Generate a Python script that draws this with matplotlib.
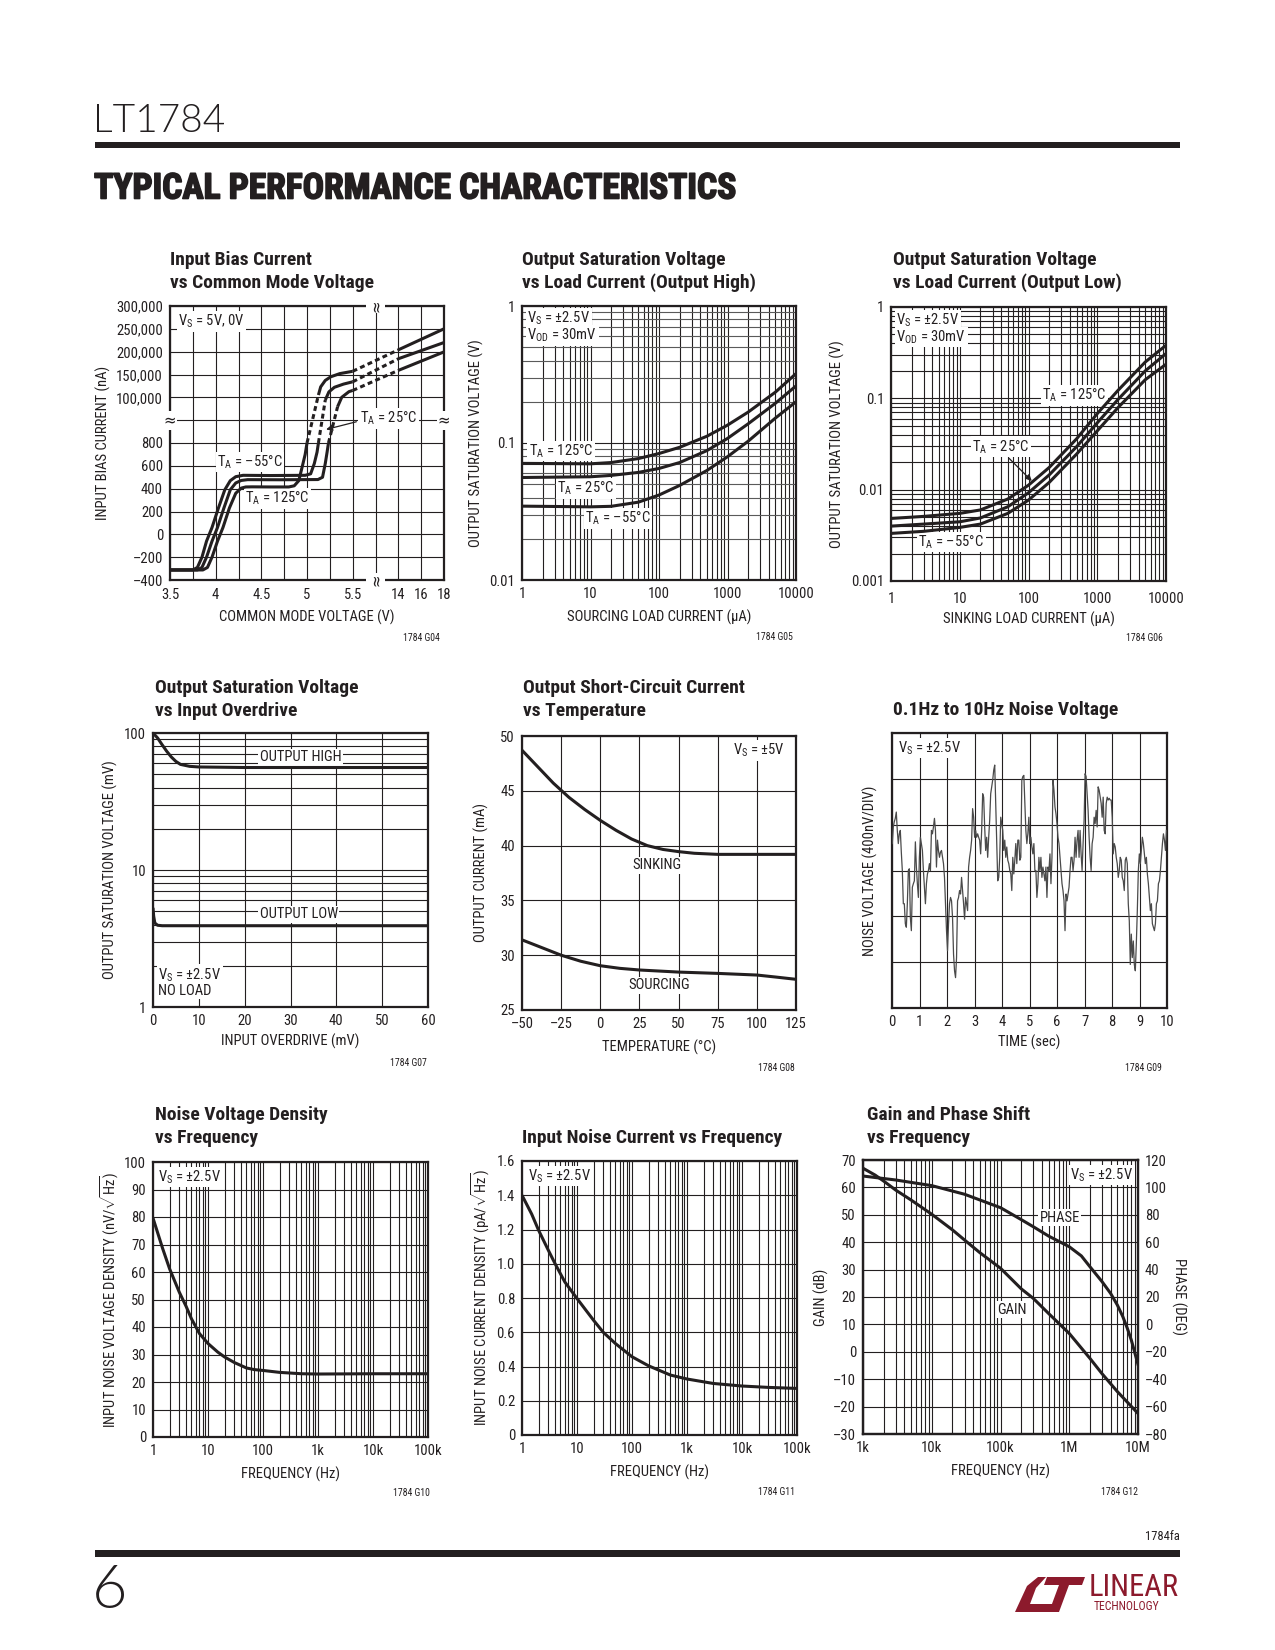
import os
import numpy as np
import matplotlib
matplotlib.use('Agg')
import matplotlib.pyplot as plt
from matplotlib import font_manager as fm
from matplotlib.patches import Polygon, Rectangle
from matplotlib.ticker import LogLocator, NullFormatter
from matplotlib.transforms import blended_transform_factory
import matplotlib.patheffects as pe

# ---------------- data ----------------
# G04 input bias current vs common mode voltage (V, nA)
g04_m55_v = [3.5, 3.75, 3.8, 3.85, 3.9, 3.96, 4.03, 4.1, 4.16, 4.22, 4.3, 4.6, 4.98, 5.04, 5.08, 5.11, 5.125]
g04_m55_i = [-312, -312, -290, -200, -60, 60, 230, 390, 470, 505, 517, 515, 517, 530, 620, 720, 800]
g04_25_v = [3.5, 3.8, 3.85, 3.9, 3.96, 4.02, 4.09, 4.16, 4.22, 4.28, 4.35, 4.7, 5.12, 5.17, 5.2, 5.22, 5.235]
g04_25_i = [-312, -312, -290, -200, -60, 60, 230, 390, 450, 472, 479, 478, 480, 500, 620, 720, 800]
g04_125_v = [3.5, 3.86, 3.91, 3.96, 4.02, 4.08, 4.15, 4.22, 4.28, 4.33, 4.4, 4.6, 4.8, 4.86, 4.91, 4.95, 4.98, 5.0]
g04_125_i = [-312, -312, -290, -200, -60, 60, 230, 360, 405, 415, 416, 415, 415, 425, 470, 600, 700, 800]
# dashed transition between the two ranges
g04_m55_jump = ([5.125, 5.2], [800, 94000])
g04_25_jump = ([5.235, 5.335], [800, 79500])
g04_125_jump = ([5.0, 5.125], [800, 105000])
# upper range, low section
g04_m55_up_v = [5.2, 5.24, 5.3, 5.4, 5.5]
g04_m55_up_i = [94000, 112000, 122000, 129000, 134000]
g04_25_up_v = [5.335, 5.38, 5.46, 5.5]
g04_25_up_i = [79500, 100000, 112500, 115000]
g04_125_up_v = [5.125, 5.15, 5.2, 5.26, 5.36, 5.5]
g04_125_up_i = [105000, 123000, 137000, 145000, 152000, 157000]
# upper range, 14V..18V (dashed from 5.5V to 14V)
g04_hi_v = [14, 18]
g04_m55_hi_i = [184500, 220000]
g04_25_hi_i = [159000, 199500]
g04_125_hi_i = [204000, 250000]

# G05 output high saturation (uA, V)
g05_i = [1, 10, 20, 50, 100, 200, 500, 1000, 2000, 5000, 10000]
g05_125 = [0.071, 0.0705, 0.072, 0.077, 0.0838, 0.093, 0.112, 0.135, 0.168, 0.235, 0.321]
g05_25 = [0.056, 0.0567, 0.058, 0.061, 0.0652, 0.072, 0.088, 0.108, 0.138, 0.195, 0.261]
g05_m55 = [0.0346, 0.0342, 0.0345, 0.037, 0.0417, 0.049, 0.063, 0.0794, 0.103, 0.152, 0.2]

# G06 output low saturation (uA, V)
g06_i = [1, 3, 10, 20, 50, 100, 200, 500, 1000, 2000, 5000, 10000]
g06_125 = [0.00484, 0.0051, 0.0055, 0.006, 0.0079, 0.0112, 0.0175, 0.036, 0.068, 0.122, 0.25, 0.381]
g06_25 = [0.00399, 0.0042, 0.00445, 0.0049, 0.0065, 0.00925, 0.0145, 0.0295, 0.0539, 0.097, 0.2, 0.309]
g06_m55 = [0.00332, 0.0035, 0.00386, 0.0042, 0.0055, 0.00769, 0.012, 0.0245, 0.044, 0.079, 0.16, 0.236]

# G07 saturation vs overdrive (mV, mV)
g07_od_hi = [0, 1, 2, 3, 4, 5, 6, 8, 10, 20, 60]
g07_hi = [100, 92, 82, 73.5, 66.8, 62, 59, 57.1, 56.5, 56, 56]
g07_od_lo = [0, 0.15, 0.4, 1, 2, 60]
g07_lo = [5.3, 4.6, 4.1, 3.95, 3.92, 3.92]

# G08 short circuit current vs temperature (C, mA)
g08_t_sink = [-50, -40, -30, -20, -10, 0, 10, 20, 30, 40, 50, 60, 75, 100, 125]
g08_sink = [48.7, 47.2, 45.7, 44.4, 43.3, 42.3, 41.4, 40.6, 40.0, 39.65, 39.45, 39.3, 39.2, 39.2, 39.2]
g08_t_src = [-50, -37.5, -25, -12.5, 0, 12.5, 25, 50, 75, 100, 112.5, 125]
g08_src = [31.4, 30.7, 30.0, 29.45, 29.04, 28.8, 28.65, 28.46, 28.34, 28.19, 28.0, 27.8]

# G09 0.1Hz to 10Hz noise (nV), evenly sampled over 10 s
g09_nv = [235, 380, 425, 455, 510, 350, 235, 320, 350, 160, 0, -290, -290, -465, -495, -290, 0, 15, -410, -525,
          -145, -115, -90, 250, 30, -115, -235, 115, 290, 235, 175, 0, -145, -290, -115, -30, 0, 60, 0, 350,
          320, 380, 455, 350, 30, 265, 175, 115, 160, 175, 115, 60, -60, -290, -525, -700, -465, -290, -235, -265,
          -410, -730, -875, -935, -760, -265, -235, -175, -205, -60, -175, -290, -425, -235, -290, -350, 30, 115, 175, 265,
          540, 465, 290, 350, 290, 320, 290, 265, 145, 350, 670, 640, 380, 175, 290, 115, 290, 440, 670, 730,
          790, 875, 920, 585, 235, -90, -60, 115, 465, 410, 350, 175, 265, 115, 205, 90, 60, 0, -30, -175,
          115, -30, 90, 235, 60, 265, 265, 90, 115, 790, 820, 830, 585, 350, 235, 320, 465, 235, 290, 205,
          145, 235, 0, 0, -235, -115, 115, 0, 115, -60, 30, -30, -90, 30, -235, 30, 0, 145, -115, 115,
          790, 700, 555, 495, 410, 290, 235, 115, 0, -115, -175, -265, -525, -205, -265, -205, -145, 0, 115, 115,
          0, 90, 290, 115, 265, 350, 115, 350, 145, 0, 235, 440, 845, 820, 670, 525, 290, 115, 0, 235,
          290, 465, 410, 525, 380, 730, 700, 640, 585, 465, 640, 350, 320, 585, 640, 615, 630, 615, 615, 465,
          145, 235, 205, 115, 60, -60, 0, 115, 90, -60, -90, -175, 90, 115, 60, -290, -440, -820, -555, -760,
          -615, -820, -875, -640, -350, 0, 145, 60, 175, 290, 235, 145, 60, 115, -30, -115, -235, -350, -290, -465,
          -495, -525, -465, -290, -265, -115, -90, 0, 115, 235, 320, 265, 175, 350]

# G10 noise voltage density (Hz, nV/rtHz)
g10_f = [1, 1.5, 2, 3, 4, 5, 7, 10, 15, 20, 30, 50, 70, 100, 200, 500, 1000, 10000, 100000]
g10_en = [79.6, 68.5, 61.2, 52.7, 47.5, 43, 37.6, 34, 30.9, 29.1, 27.1, 25.1, 24.5, 24.2, 23.5, 23, 22.9, 23, 23]

# G11 noise current density (Hz, pA/rtHz)
g11_f = [1, 1.5, 2, 3, 4, 6, 10, 20, 30, 50, 100, 200, 500, 1000, 3000, 10000, 30000, 100000]
g11_in = [1.4, 1.29, 1.196, 1.08, 1.0, 0.894, 0.797, 0.67, 0.6, 0.534, 0.457, 0.404, 0.35, 0.327, 0.301, 0.286,
          0.278, 0.272]

# G12 gain and phase (Hz, dB / deg)
g12_f = [1e3, 1.5e3, 2e3, 3e3, 5e3, 1e4, 2e4, 3e4, 5e4, 1e5, 2e5, 3e5, 5e5, 1e6, 2e6, 3e6, 5e6, 1e7]
g12_gain = [67, 64.5, 62.3, 59, 55.4, 50.2, 44.5, 40.8, 36.2, 30.5, 23, 19.5, 14, 6.7, -2.4, -8, -14.5, -22.5]
g12_pf = [1e3, 3e3, 1e4, 3e4, 1e5, 2e5, 3e5, 5e5, 1e6, 1.5e6, 2e6, 3e6, 4e6, 5e6, 6e6, 7e6, 8e6, 1e7]
g12_phase = [108.3, 105.4, 101.3, 95, 85.2, 76.5, 71.3, 64.5, 56.7, 50, 42.1, 31.2, 22.6, 14.2, 5.8, -2.9, -11.5,
             -29.2]


# ---------------- fonts ----------------
def find_font(patterns):
    for pat in patterns:
        for f in fm.fontManager.ttflist:
            if os.path.basename(f.fname).lower().startswith(pat.lower()):
                return f
    return None


cond = find_font(['RobotoCondensed-Regular', 'Roboto_Condensed-Regular', 'LiberationSansNarrow-Regular',
                  'DejaVuSansCondensed.ttf'])
light = find_font(['Lato-Light', 'OpenSans-Light', 'Roboto-Light', 'DejaVuSans-ExtraLight'])

W, H = 1275, 1650
INK = '#231f20'
RED = '#8c1a2c'
if cond is not None:
    plt.rcParams['font.family'] = [cond.name, 'DejaVu Sans']
    plt.rcParams['font.stretch'] = cond.stretch
else:
    plt.rcParams['font.family'] = ['Liberation Sans', 'DejaVu Sans']
plt.rcParams['mathtext.fontset'] = 'custom'
plt.rcParams['mathtext.rm'] = plt.rcParams['font.family'][0]
plt.rcParams['text.color'] = INK
plt.rcParams['axes.labelcolor'] = INK
LIGHT = dict(family=[light.name, 'DejaVu Sans'], weight=light.weight, stretch='normal') if light else {}

fig = plt.figure(figsize=(W / 100, H / 100), dpi=100)

LW = 2.2
SUB_S = r'V$_\mathregular{S}$'
SUB_A = r'T$_\mathregular{A}$'
SUB_OD = r'V$_\mathregular{OD}$'


def px(x, y):
    return x / W, 1 - y / H


def new_ax(l, t, r, b):
    ax = fig.add_axes([l / W, 1 - b / H, (r - l) / W, (b - t) / H])
    for s in ax.spines.values():
        s.set_linewidth(1.6)
        s.set_color(INK)
    ax.tick_params(which='both', length=0, labelsize=10.5, colors=INK, pad=5)
    ax.grid(which='both', color=INK, lw=0.8)
    ax.set_axisbelow(True)
    return ax


def log_minor(axis):
    axis.set_minor_locator(LogLocator(base=10, subs=np.arange(2, 10), numticks=30))
    axis.set_minor_formatter(NullFormatter())


def note(ax, x, y, s, ha='left', va='center', box=True):
    bb = dict(facecolor='white', edgecolor='none', pad=1.0) if box else None
    ax.text(x, y, s, transform=ax.transAxes, ha=ha, va=va, fontsize=10.5, bbox=bb, zorder=5)


def title(x, y, lines):
    for k, s in enumerate(lines):
        fig.text(*px(x, y + 23 * k), s, fontsize=14, fontweight='bold', va='center')


def code(x, y, s):
    fig.text(*px(x, y), s, fontsize=7, ha='right', va='center')


def curve(ax, x, y, dashed=False):
    ls = (0, (1.6, 1.1)) if dashed else '-'
    ax.plot(x, y, color=INK, lw=LW, ls=ls, zorder=6, solid_capstyle='butt')


# ---------------- header / footer ----------------
fig.text(*px(93, 121), 'LT1784', fontsize=28, va='center', **LIGHT)
fig.add_artist(Rectangle(px(95, 148), (1180 - 95) / W, 6 / H, transform=fig.transFigure, color=INK, lw=0))
fig.text(*px(94, 189), 'TYPICAL PERFORMANCE CHARACTERISTICS', fontsize=25.5, fontweight='bold', va='center',
         path_effects=[pe.withStroke(linewidth=1.2, foreground=INK)])
fig.text(*px(1180, 1537), '1784fa', fontsize=9, ha='right', va='center')
fig.add_artist(Rectangle(px(95, 1557), (1180 - 95) / W, 7 / H, transform=fig.transFigure, color=INK, lw=0))
fig.text(*px(92, 1591), '6', fontsize=44, va='center', **LIGHT)
logo_L = [(1015, 1612), (1050, 1612), (1053, 1604), (1030, 1604), (1036, 1588), (1046, 1577), (1038, 1577),
          (1027, 1586)]
logo_T = [(1047, 1577), (1085, 1577), (1082, 1585), (1069, 1585), (1059, 1612), (1049, 1612), (1059, 1585),
          (1044, 1585)]
for poly in (logo_L, logo_T):
    fig.add_artist(Polygon([px(*p) for p in poly], closed=True, transform=fig.transFigure, color=RED, lw=0))
fig.text(*px(1089, 1588), 'LINEAR', fontsize=22, color=RED, va='center')
fig.text(*px(1094, 1606), 'TECHNOLOGY', fontsize=8.5, color=RED, va='center')

# ---------------- G04 ----------------
cm_knots = [0.0, 3.5, 5.625, 13.0, 18.0, 30.0]
cm_idx = [-14.0, 0.0, 8.5, 9.5, 12.0, 18.0]
ib_knots = [-3000, -400, 900, 75000, 300000, 1e6]
ib_idx = [-13, 0, 6.5, 7.5, 12, 26]

ax = new_ax(170, 306, 444, 580)
ax.set_xscale('function', functions=(lambda v: np.interp(v, cm_knots, cm_idx),
                                     lambda u: np.interp(u, cm_idx, cm_knots)))
ax.set_yscale('function', functions=(lambda v: np.interp(v, ib_knots, ib_idx),
                                     lambda u: np.interp(u, ib_idx, ib_knots)))
ax.set_xlim(3.5, 18)
ax.set_ylim(-400, 300000)
x_break = float(np.interp(9, cm_idx, cm_knots))
y_break = float(np.interp(7, ib_idx, ib_knots))
ax.set_xticks([3.5, 4, 4.5, 5, 5.5, 14, 16, 18], labels=['3.5', '4', '4.5', '5', '5.5', '14', '16', '18'])
ax.set_xticks([3.75, 4.25, 4.75, 5.25, x_break], minor=True)
ax.set_yticks([-400, -200, 0, 200, 400, 600, 800, 100000, 150000, 200000, 250000, 300000],
              labels=['–400', '–200', '0', '200', '400', '600', '800', '100,000', '150,000', '200,000',
                      '250,000', '300,000'])
ax.set_yticks([y_break], minor=True)
ax.xaxis.set_minor_formatter(NullFormatter())
ax.yaxis.set_minor_formatter(NullFormatter())
ax.tick_params(axis='x', pad=6)
for v, i in ((g04_m55_v, g04_m55_i), (g04_25_v, g04_25_i), (g04_125_v, g04_125_i)):
    curve(ax, v, i)
for j in (g04_m55_jump, g04_25_jump, g04_125_jump):
    curve(ax, j[0], j[1], dashed=True)
for v, i, hi in ((g04_m55_up_v, g04_m55_up_i, g04_m55_hi_i), (g04_25_up_v, g04_25_up_i, g04_25_hi_i),
                 (g04_125_up_v, g04_125_up_i, g04_125_hi_i)):
    curve(ax, v, i)
    curve(ax, [v[-1], g04_hi_v[0]], [i[-1], hi[0]], dashed=True)
    curve(ax, g04_hi_v, hi)
bx = blended_transform_factory(ax.transData, ax.transAxes)
by = blended_transform_factory(ax.transAxes, ax.transData)
brk = dict(facecolor='white', edgecolor='none', pad=0.2)
for yy in (0, 1):
    ax.text(x_break, yy, '≈', transform=bx, rotation=90, ha='center', va='center', fontsize=12,
            bbox=brk, zorder=7, clip_on=False, family='DejaVu Sans')
for xx in (0, 1):
    ax.text(xx, y_break, '≈', transform=by, ha='center', va='center', fontsize=12,
            bbox=brk, zorder=7, clip_on=False, family='DejaVu Sans')
note(ax, 0.03, 0.944, SUB_S + ' = 5V, 0V')
note(ax, 0.292, 0.431, SUB_A + ' = –55°C', ha='center')
note(ax, 0.392, 0.298, SUB_A + ' = 125°C', ha='center')
note(ax, 0.797, 0.589, SUB_A + ' = 25°C', ha='center')
ax.annotate('', xy=(0.56, 0.547), xytext=(0.69, 0.58), xycoords='axes fraction',
            arrowprops=dict(arrowstyle='-|>', color=INK, lw=0.9, mutation_scale=9), zorder=7)
ax.set_xlabel('COMMON MODE VOLTAGE (V)', fontsize=10.5, labelpad=5)
ax.set_ylabel('INPUT BIAS CURRENT (nA)', fontsize=10.5, labelpad=4)
title(170, 260, ['Input Bias Current', 'vs Common Mode Voltage'])
code(440, 638, '1784 G04')

# ---------------- G05 ----------------
ax = new_ax(522, 306, 796, 580)
ax.set_xscale('log')
ax.set_yscale('log')
ax.set_xlim(1, 1e4)
ax.set_ylim(0.01, 1)
ax.set_xticks([1, 10, 100, 1000, 10000], labels=['1', '10', '100', '1000', '10000'])
ax.set_yticks([0.01, 0.1, 1], labels=['0.01', '0.1', '1'])
log_minor(ax.xaxis)
log_minor(ax.yaxis)
ax.yaxis.grid(which='minor', color='#5a5a5a', lw=0.8)
for yv in (g05_125, g05_25, g05_m55):
    curve(ax, g05_i, yv)
note(ax, 0.02, 0.954, SUB_S + ' = ±2.5V')
note(ax, 0.02, 0.893, SUB_OD + ' = 30mV')
note(ax, 0.024, 0.471, SUB_A + ' = 125°C')
note(ax, 0.128, 0.334, SUB_A + ' = 25°C')
note(ax, 0.231, 0.225, SUB_A + ' = –55°C')
ax.set_xlabel('SOURCING LOAD CURRENT (µA)', fontsize=10.5, labelpad=6)
ax.set_ylabel('OUTPUT SATURATION VOLTAGE (V)', fontsize=10.5, labelpad=4)
title(522, 260, ['Output Saturation Voltage', 'vs Load Current (Output High)'])
code(793, 637, '1784 G05')

# ---------------- G06 ----------------
ax = new_ax(891, 307, 1166, 581)
ax.set_xscale('log')
ax.set_yscale('log')
ax.set_xlim(1, 1e4)
ax.set_ylim(0.001, 1)
ax.set_xticks([1, 10, 100, 1000, 10000], labels=['1', '10', '100', '1000', '10000'])
ax.set_yticks([0.001, 0.01, 0.1, 1], labels=['0.001', '0.01', '0.1', '1'])
ax.tick_params(axis='x', pad=8)
log_minor(ax.xaxis)
log_minor(ax.yaxis)
for yv in (g06_125, g06_25, g06_m55):
    curve(ax, g06_i, yv)
note(ax, 0.02, 0.951, SUB_S + ' = ±2.5V')
note(ax, 0.02, 0.89, SUB_OD + ' = 30mV')
note(ax, 0.549, 0.678, SUB_A + ' = 125°C')
note(ax, 0.295, 0.49, SUB_A + ' = 25°C')
note(ax, 0.1, 0.143, SUB_A + ' = –55°C')
ax.annotate('', xy=(0.519, 0.358), xytext=(0.422, 0.455), xycoords='axes fraction',
            arrowprops=dict(arrowstyle='-|>', color=INK, lw=0.9, mutation_scale=9), zorder=7)
ax.set_xlabel('SINKING LOAD CURRENT (µA)', fontsize=10.5, labelpad=4)
ax.set_ylabel('OUTPUT SATURATION VOLTAGE (V)', fontsize=10.5, labelpad=4)
title(893, 260, ['Output Saturation Voltage', 'vs Load Current (Output Low)'])
code(1163, 638, '1784 G06')

# ---------------- G07 ----------------
ax = new_ax(153, 733, 428, 1007)
ax.set_yscale('log')
ax.set_xlim(0, 60)
ax.set_ylim(1, 100)
ax.set_xticks(np.arange(0, 61, 10))
ax.set_yticks([1, 10, 100], labels=['1', '10', '100'])
log_minor(ax.yaxis)
curve(ax, g07_od_hi, g07_hi)
curve(ax, g07_od_lo, g07_lo)
note(ax, 0.388, 0.912, 'OUTPUT HIGH')
note(ax, 0.388, 0.339, 'OUTPUT LOW')
note(ax, 0.02, 0.118, SUB_S + ' = ±2.5V')
note(ax, 0.02, 0.06, 'NO LOAD')
ax.set_xlabel('INPUT OVERDRIVE (mV)', fontsize=10.5, labelpad=4)
ax.set_ylabel('OUTPUT SATURATION VOLTAGE (mV)', fontsize=10.5, labelpad=4)
title(155, 688, ['Output Saturation Voltage', 'vs Input Overdrive'])
code(427, 1063, '1784 G07')

# ---------------- G08 ----------------
ax = new_ax(522, 736, 796, 1010)
ax.set_xlim(-50, 125)
ax.set_ylim(25, 50)
ax.set_xticks(np.arange(-50, 126, 25), labels=['–50', '–25', '0', '25', '50', '75', '100', '125'])
ax.set_yticks(np.arange(25, 51, 5))
curve(ax, g08_t_sink, g08_sink)
curve(ax, g08_t_src, g08_src)
note(ax, 0.961, 0.948, SUB_S + ' = ±5V', ha='right')
note(ax, 0.493, 0.529, 'SINKING', ha='center')
note(ax, 0.499, 0.091, 'SOURCING', ha='center')
ax.set_xlabel('TEMPERATURE (°C)', fontsize=10.5, labelpad=6)
ax.set_ylabel('OUTPUT CURRENT (mA)', fontsize=10.5, labelpad=8)
title(523, 688, ['Output Short-Circuit Current', 'vs Temperature'])
code(795, 1068, '1784 G08')

# ---------------- G09 ----------------
ax = new_ax(892, 733, 1167, 1008)
t = np.linspace(0.01, 9.98, len(g09_nv))
ax.set_xlim(0, 10)
ax.set_ylim(-1200, 1200)
ax.set_xticks(np.arange(0, 11, 1))
ax.set_yticks(np.arange(-1200, 1201, 400), labels=[''] * 7)
ax.plot(t, g09_nv, color='#4a4a4a', lw=0.9, zorder=6)
note(ax, 0.02, 0.945, SUB_S + ' = ±2.5V')
ax.set_xlabel('TIME (sec)', fontsize=10.5, labelpad=4)
ax.set_ylabel('NOISE VOLTAGE (400nV/DIV)', fontsize=10.5, labelpad=5)
title(893, 710, ['0.1Hz to 10Hz Noise Voltage'])
code(1162, 1068, '1784 G09')

# ---------------- G10 ----------------
ax = new_ax(153, 1162, 428, 1437)
ax.set_xscale('log')
ax.set_xlim(1, 1e5)
ax.set_ylim(0, 100)
ax.set_xticks([1, 10, 100, 1e3, 1e4, 1e5], labels=['1', '10', '100', '1k', '10k', '100k'])
ax.set_yticks(np.arange(0, 101, 10))
log_minor(ax.xaxis)
curve(ax, g10_f, g10_en)
note(ax, 0.02, 0.945, SUB_S + ' = ±2.5V')
ax.set_xlabel('FREQUENCY (Hz)', fontsize=10.5, labelpad=6)
ax.set_ylabel(r'INPUT NOISE VOLTAGE DENSITY (nV/$\sqrt{\mathregular{Hz}}$)', fontsize=10.5, labelpad=2)
title(155, 1115, ['Noise Voltage Density', 'vs Frequency'])
code(430, 1493, '1784 G10')

# ---------------- G11 ----------------
ax = new_ax(522, 1161, 797, 1435)
ax.set_xscale('log')
ax.set_xlim(1, 1e5)
ax.set_ylim(0, 1.6)
ax.set_xticks([1, 10, 100, 1e3, 1e4, 1e5], labels=['1', '10', '100', '1k', '10k', '100k'])
ax.set_yticks(np.arange(0, 1.61, 0.2), labels=['0', '0.2', '0.4', '0.6', '0.8', '1.0', '1.2', '1.4', '1.6'])
log_minor(ax.xaxis)
curve(ax, g11_f, g11_in)
note(ax, 0.02, 0.945, SUB_S + ' = ±2.5V')
ax.set_xlabel('FREQUENCY (Hz)', fontsize=10.5, labelpad=6)
ax.set_ylabel(r'INPUT NOISE CURRENT DENSITY (pA/$\sqrt{\mathregular{Hz}}$)', fontsize=10.5, labelpad=3)
title(522, 1138, ['Input Noise Current vs Frequency'])
code(795, 1492, '1784 G11')

# ---------------- G12 ----------------
ax = new_ax(863, 1160, 1138, 1434)
ax.set_xscale('log')
ax.set_xlim(1e3, 1e7)
ax.set_ylim(-30, 70)
ax.set_xticks([1e3, 1e4, 1e5, 1e6, 1e7], labels=['1k', '10k', '100k', '1M', '10M'])
ax.set_yticks(np.arange(-30, 71, 10), labels=['–30', '–20', '–10', '0', '10', '20', '30', '40', '50', '60', '70'])
log_minor(ax.xaxis)
curve(ax, g12_f, g12_gain)
ax2 = ax.twinx()
ax2.set_ylim(-80, 120)
ax2.set_yticks(np.arange(-80, 121, 20),
               labels=['–80', '–60', '–40', '–20', '0', '20', '40', '60', '80', '100', '120'])
ax2.tick_params(length=0, labelsize=10.5, colors=INK, pad=5)
for s in ax2.spines.values():
    s.set_linewidth(1.6)
    s.set_color(INK)
ax2.plot(g12_pf, g12_phase, color=INK, lw=LW, zorder=6)
note(ax, 0.982, 0.945, SUB_S + ' = ±2.5V', ha='right')
note(ax, 0.715, 0.79, 'PHASE', ha='center')
note(ax, 0.542, 0.453, 'GAIN', ha='center')
ax.set_xlabel('FREQUENCY (Hz)', fontsize=10.5, labelpad=6)
ax.set_ylabel('GAIN (dB)', fontsize=10.5, labelpad=3)
ax2.set_ylabel('PHASE (DEG)', fontsize=10.5, rotation=270, labelpad=13)
title(867, 1115, ['Gain and Phase Shift', 'vs Frequency'])
code(1138, 1492, '1784 G12')

fig.savefig('out.png', dpi=100)
